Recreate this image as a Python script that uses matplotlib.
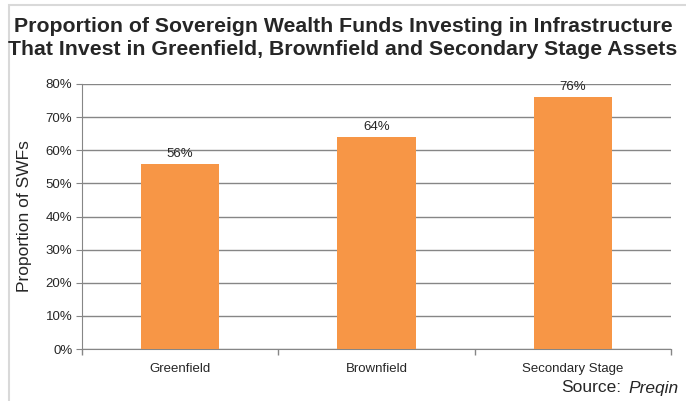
import matplotlib
matplotlib.use("Agg")
from matplotlib import pyplot as plt
from matplotlib.patches import Rectangle
from matplotlib.ticker import FuncFormatter, FixedLocator

plt.rcParams['font.family'] = ['Liberation Sans', 'DejaVu Sans']

# data
categories = ["Greenfield", "Brownfield", "Secondary Stage"]
shares = [56, 64, 76]
title = ("Proportion of Sovereign Wealth Funds Investing in Infrastructure\n"
         "That Invest in Greenfield, Brownfield and Secondary Stage Assets")

fig = plt.figure(figsize=(6.86, 4.01), dpi=100)
# light frame around the chart area
fig.patches.append(Rectangle((9 / 686, -0.05), 1.0, 1 - 5 / 401 + 0.05, transform=fig.transFigure,
                             fill=False, edgecolor="#d9d9d9", linewidth=1.5))

ax = fig.add_axes([82 / 686, 1 - 349 / 401, (671 - 82) / 686, (349 - 84) / 401])
x = range(len(categories))
ax.bar(x, shares, width=0.4, color="#F79646", zorder=3)
for i, v in zip(x, shares):
    ax.text(i, v + 1.2, f"{v}%", ha="center", va="bottom", fontsize=9.5, color="#262626", zorder=2)

ax.set_xlim(-0.5, len(categories) - 0.5)
ax.set_ylim(0, 80)
ax.set_yticks(range(0, 81, 10))
ax.yaxis.set_major_formatter(FuncFormatter(lambda v, _: f"{v:.0f}%"))
ax.set_xticks(list(x))
ax.set_xticklabels(categories)
ax.xaxis.set_minor_locator(FixedLocator([i - 0.5 for i in range(len(categories) + 1)]))
ax.tick_params(axis="x", which="major", length=0, labelsize=9.5, pad=10, colors="#262626")
ax.tick_params(axis="x", which="minor", length=4, color="#868686", width=1)
ax.tick_params(axis="y", length=4, color="#868686", labelsize=9.5, labelcolor="#262626", pad=3)
ax.grid(axis="y", color="#868686", linewidth=1, zorder=0)
for side in ("top", "right"):
    ax.spines[side].set_visible(False)
for side in ("left", "bottom"):
    ax.spines[side].set_color("#868686")
ax.set_ylabel("Proportion of SWFs", fontsize=12.5, color="#262626", labelpad=10)

fig.text(0.5, 1 - 38 / 401, title, ha="center", va="center", fontsize=15.3,
         fontweight="bold", color="#262626", linespacing=1.28)
fig.text(561 / 686, 1 - 388 / 401, "Source:", ha="left", va="center", fontsize=12.5, color="#262626")
fig.text(679 / 686, 1 - 388 / 401, "Preqin", ha="right", va="center", fontsize=12.5,
         style="italic", color="#262626")

fig.savefig("out.png", dpi=100)
